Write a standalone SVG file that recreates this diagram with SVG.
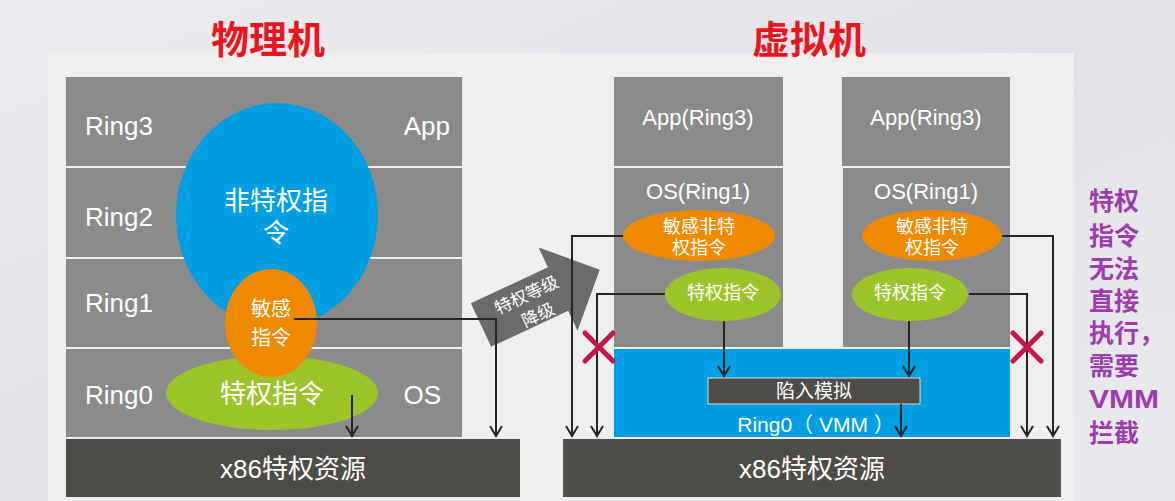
<svg xmlns="http://www.w3.org/2000/svg" width="1175" height="501" viewBox="0 0 1175 501">
<defs>
<linearGradient id="bg" x1="0" y1="0" x2="1" y2="1">
<stop offset="0" stop-color="#ececf0"/>
<stop offset="0.5" stop-color="#e2e2e8"/>
<stop offset="1" stop-color="#eaeaee"/>
</linearGradient>
<marker id="ah" viewBox="-12 -8 14 16" refX="0" refY="0" markerWidth="14" markerHeight="16" markerUnits="userSpaceOnUse" orient="auto">
<path d="M-10,-6 L0,0 L-10,6" fill="none" stroke="#262626" stroke-width="2"/>
</marker>
<style>
text{font-family:"Liberation Sans","Noto Sans CJK SC",sans-serif;fill:#ffffff;}
.ring{fill:#8b8b8b;}
.bar{fill:#4e4c47;}
.lbl{font-size:26px;}
.vm{font-size:22px;text-anchor:middle;}
.mid{text-anchor:middle;}
.title{font-size:38px;font-weight:bold;fill:#e8161f;text-anchor:middle;}
.blue{fill:#009fe3;}
.orange{fill:#ef8a00;}
.green{fill:#9cc42a;}
.conn{fill:none;stroke:#262626;stroke-width:2;marker-end:url(#ah);}
.x{stroke:#c4164a;stroke-width:5;stroke-linecap:round;}
.note{font-size:25px;font-weight:bold;fill:#9d3dab;}
</style>
</defs>
<rect x="0" y="0" width="1175" height="501" fill="url(#bg)"/>
<rect x="48" y="53" width="1026" height="448" fill="#efefef"/>
<text class="title" x="268" y="53">物理机</text>
<text class="title" x="809" y="53">虚拟机</text>
<g id="physical-rings">
<rect class="ring" x="66" y="77" width="396" height="89"/>
<rect class="ring" x="66" y="168" width="396" height="89"/>
<rect class="ring" x="66" y="259" width="396" height="88"/>
<rect class="ring" x="66" y="349" width="396" height="88"/>
<text class="lbl" x="85" y="135">Ring3</text>
<text class="lbl" x="450" y="135" text-anchor="end">App</text>
<text class="lbl" x="85" y="226">Ring2</text>
<text class="lbl" x="85" y="312">Ring1</text>
<text class="lbl" x="85" y="404">Ring0</text>
<text class="lbl" x="441" y="404" text-anchor="end">OS</text>
</g>
<g id="phys-x86">
<rect class="bar" x="66" y="439" width="454" height="58"/>
<text class="lbl mid" x="293" y="478">x86特权资源</text>
</g>
<g id="phys-nonpriv">
<ellipse class="blue" cx="277" cy="215" rx="101" ry="112"/>
<text class="lbl mid" x="276" y="210">非特权指</text>
<text class="lbl mid" x="276" y="242">令</text>
</g>
<g id="phys-priv">
<ellipse class="green" cx="272" cy="393" rx="106" ry="37"/>
<text class="lbl mid" x="272" y="403">特权指令</text>
</g>
<g id="phys-sensitive">
<ellipse class="orange" cx="271" cy="323" rx="46" ry="54"/>
<text class="mid" x="271" y="316" font-size="20">敏感</text>
<text class="mid" x="271" y="345" font-size="20">指令</text>
</g>
<g id="downgrade-arrow" transform="translate(481,325) rotate(-25)">
<polygon points="0,-24 85,-24 85,-46 131,0 85,46 85,24 0,24" fill="#6b6b6b"/>
<text class="mid" x="54" y="-2" font-size="17" fill="#e6e6e6">特权等级</text>
<text class="mid" x="56" y="21" font-size="17" fill="#e6e6e6">降级</text>
</g>
<g id="vm1">
<rect class="ring" x="614" y="77" width="169" height="89"/>
<rect class="ring" x="614" y="168" width="169" height="179"/>
<text class="vm" x="698" y="125">App(Ring3)</text>
<text class="vm" x="698" y="199">OS(Ring1)</text>
<ellipse class="orange" cx="699" cy="235.5" rx="76" ry="25.5"/>
<text class="mid" x="699" y="233" font-size="18">敏感非特</text>
<text class="mid" x="699" y="254" font-size="18">权指令</text>
<ellipse class="green" cx="723" cy="294.5" rx="58" ry="26.5"/>
<text class="mid" x="723" y="299" font-size="18">特权指令</text>
</g>
<g id="vm2">
<rect class="ring" x="842" y="77" width="168" height="89"/>
<rect class="ring" x="843" y="168" width="167" height="179"/>
<text class="vm" x="926" y="125">App(Ring3)</text>
<text class="vm" x="926" y="199">OS(Ring1)</text>
<ellipse class="orange" cx="932" cy="235.5" rx="70" ry="25.5"/>
<text class="mid" x="932" y="233" font-size="18">敏感非特</text>
<text class="mid" x="932" y="254" font-size="18">权指令</text>
<ellipse class="green" cx="910" cy="294.5" rx="58" ry="26.5"/>
<text class="mid" x="910" y="299" font-size="18">特权指令</text>
</g>
<g id="vmm">
<rect class="blue" x="614" y="349" width="396" height="88"/>
<text class="mid" x="816" y="432" font-size="21">Ring0（ VMM ）</text>
</g>
<g id="trap-emulate">
<rect x="708" y="378" width="212" height="26" fill="#4e4c47" stroke="#dcdcdc" stroke-width="1"/>
<text class="mid" x="814" y="398" font-size="19">陷入模拟</text>
</g>
<g id="vm-x86">
<rect class="bar" x="563" y="439" width="498" height="58"/>
<text class="lbl mid" x="812" y="478">x86特权资源</text>
</g>
<g id="connectors">
<polyline class="conn" points="294,319 496,319 496,436"/>
<polyline class="conn" points="352,395 352,436"/>
<polyline class="conn" points="623,236 572,236 572,436"/>
<polyline class="conn" points="665,294 597,294 597,436"/>
<polyline class="conn" points="1002,236 1053,236 1053,436"/>
<polyline class="conn" points="969,294 1027,294 1027,436"/>
<polyline class="conn" points="724,321 724,376"/>
<polyline class="conn" points="909,321 909,376"/>
<polyline class="conn" points="901,404 901,436"/>
</g>
<g id="blocked-marks">
<path class="x" d="M585,333 L613,361 M613,333 L585,361"/>
<path class="x" d="M1013,333 L1041,361 M1041,333 L1013,361"/>
</g>
<g id="note">
<text class="note" x="1089" y="210">特权</text>
<text class="note" x="1089" y="245">指令</text>
<text class="note" x="1089" y="278">无法</text>
<text class="note" x="1089" y="310">直接</text>
<text class="note" x="1089" y="342">执行，</text>
<text class="note" x="1089" y="375">需要</text>
<text class="note" x="1089" y="408" font-size="28" textLength="70" lengthAdjust="spacingAndGlyphs">VMM</text>
<text class="note" x="1089" y="442">拦截</text>
</g>
</svg>
